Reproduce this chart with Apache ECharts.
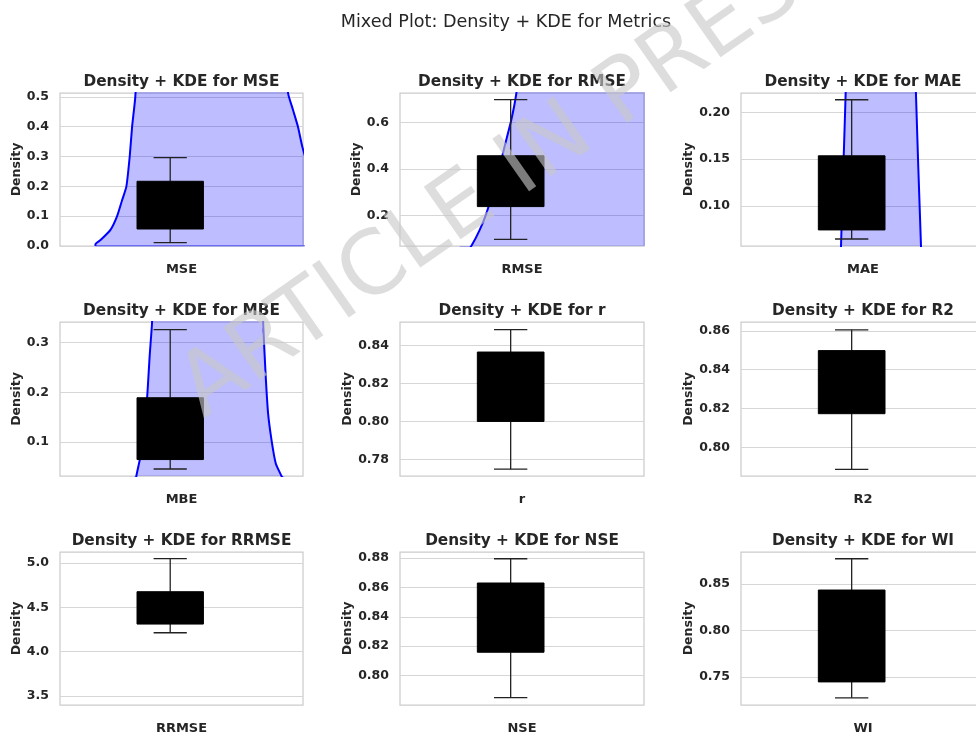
<!DOCTYPE html>
<html><head><meta charset="utf-8">
<script src="https://cdn.jsdelivr.net/npm/echarts@6/dist/echarts.min.js"></script>
<style>html,body{margin:0;padding:0;background:#fff}#c{width:976px;height:736px}</style>
</head><body><div id="c"></div>
<script>
// ---- data ----
const metrics = ['MSE', 'RMSE', 'MAE', 'MBE', 'r', 'R2', 'RRMSE', 'NSE', 'WI'];
// box stats per metric: [lower whisker, Q1, median, Q3, upper whisker]
const boxMSE   = [0.011, 0.057, 0.14, 0.217, 0.296];
const boxRMSE  = [0.098, 0.239, 0.35, 0.457, 0.698];
const boxMAE   = [0.0646, 0.0743, 0.11, 0.1536, 0.2136];
const boxMBE   = [0.046, 0.065, 0.12, 0.189, 0.3255];
const boxR     = [0.7749, 0.800, 0.82, 0.8365, 0.8483];
const boxR2    = [0.7888, 0.8174, 0.835, 0.8498, 0.8605];
const boxRRMSE = [4.213, 4.311, 4.5, 4.676, 5.049];
const boxNSE   = [0.785, 0.8159, 0.84, 0.863, 0.8795];
const boxWI    = [0.728, 0.745, 0.80, 0.8433, 0.8768];
const boxes = [boxMSE, boxRMSE, boxMAE, boxMBE, boxR, boxR2, boxRRMSE, boxNSE, boxWI];
const boxPosition = 1;

// KDE curves [x, density] (parts above the axes are clipped)
const kdeMSE = [[0.437,0.0],[0.437,0.006],[0.475,0.02],[0.55,0.054],[0.60,0.10],[0.638,0.154],[0.67,0.20],[0.695,0.30],[0.713,0.40],[0.737,0.50],[0.76,0.70],[0.80,1.0],[1.0,1.6],[1.3,1.8],[1.6,1.4],[1.85,0.70],[1.888,0.512],[1.925,0.456],[1.962,0.40],[1.995,0.333],[2.05,0.25]];
const kdeMSEBase = [[0.437,0.0],[2.05,0.0]];
const kdeRMSE = [[0.617,0.0],[0.655,0.03],[0.705,0.07],[0.767,0.138],[0.818,0.21],[0.893,0.352],[0.955,0.498],[1.005,0.611],[1.043,0.726],[1.105,1.0],[1.5,2.0],[2.1,2.0]];
const kdeMAE = [[0.915,0.03],[0.920,0.057],[0.9375,0.14],[0.955,0.221],[0.97,0.30],[1.2,0.6],[1.465,0.30],[1.482,0.221],[1.50,0.14],[1.52,0.057],[1.525,0.03]];
const kdeMBE = [[0.73,0.0],[0.745,0.032],[0.775,0.070],[0.807,0.124],[0.830,0.205],[0.845,0.272],[0.863,0.339],[0.88,0.45],[1.3,0.9],[1.69,0.45],[1.700,0.339],[1.718,0.238],[1.737,0.158],[1.763,0.104],[1.795,0.057],[1.838,0.032],[1.86,0.02]];
const kdes = [kdeMSE, kdeRMSE, kdeMAE, kdeMBE, null, null, null, null, null];

// axis ranges and tick labels
const yMin = [0.0, 0.07, 0.0571, 0.032, 0.7713, 0.7854, 3.398, 0.780, 0.7203];
const yMax = [0.513, 0.726, 0.2208, 0.341, 0.8523, 0.8645, 5.124, 0.8841, 0.884];
const yTicks = [
  [0.0,0.1,0.2,0.3,0.4,0.5],
  [0.2,0.4,0.6],
  [0.10,0.15,0.20],
  [0.1,0.2,0.3],
  [0.78,0.80,0.82,0.84],
  [0.80,0.82,0.84,0.86],
  [3.5,4.0,4.5,5.0],
  [0.80,0.82,0.84,0.86,0.88],
  [0.75,0.80,0.85]
];
const yDecimals = [1,1,2,1,2,2,1,2,2];
const xMin = 0.17, xMax = 2.0;

// ---- layout ----
const FONT = '"DejaVu Sans", sans-serif';
const TXT = '#262626';
const colLeft = [60, 400, 741];
const colWidth = [243, 244, 244];
const rowTop = [93, 322, 552];
const rowHeight = [153, 154, 153];
const nameGaps = [36, 36, 44];

const grids = [], xAxes = [], yAxes = [], series = [], titles = [];
titles.push({
  text: 'Mixed Plot: Density + KDE for Metrics',
  left: 506, top: 13, textAlign: 'center', padding: 0,
  textStyle: { fontFamily: FONT, fontSize: 17.6, fontWeight: 'normal', color: TXT }
});

function renderBox(params, api) {
  const x = api.value(0), lo = api.value(1), q1 = api.value(2), md = api.value(3), q3 = api.value(4), hi = api.value(5);
  const hw = 0.25, cw = 0.125;
  const tl = api.coord([x - hw, q3]), br = api.coord([x + hw, q1]);
  const cLo = api.coord([x, lo]), cHi = api.coord([x, hi]);
  const capL = api.coord([x - cw, lo])[0], capR = api.coord([x + cw, lo])[0];
  const mL = api.coord([x - hw, md]), mR = api.coord([x + hw, md]);
  const ls = { stroke: '#222', lineWidth: 1.3, fill: null };
  return {
    type: 'group',
    children: [
      { type: 'line', shape: { x1: cLo[0], y1: cLo[1], x2: cLo[0], y2: br[1] }, style: ls },
      { type: 'line', shape: { x1: cHi[0], y1: cHi[1], x2: cHi[0], y2: tl[1] }, style: ls },
      { type: 'line', shape: { x1: capL, y1: cLo[1], x2: capR, y2: cLo[1] }, style: ls },
      { type: 'line', shape: { x1: capL, y1: cHi[1], x2: capR, y2: cHi[1] }, style: ls },
      { type: 'rect', shape: { x: tl[0], y: tl[1], width: br[0] - tl[0], height: br[1] - tl[1] }, style: { fill: '#000', stroke: '#000', lineWidth: 1 } },
      { type: 'line', shape: { x1: mL[0], y1: mL[1], x2: mR[0], y2: mR[1] }, style: { stroke: '#000', lineWidth: 1 } }
    ]
  };
}

metrics.forEach((m, i) => {
  const r = Math.floor(i / 3), c = i % 3;
  grids.push({
    left: colLeft[c], top: rowTop[r], width: colWidth[c], height: rowHeight[r],
    show: true, borderColor: '#cccccc', borderWidth: 1.25, backgroundColor: '#fff',
    containLabel: false, outerBoundsMode: 'none'
  });
  xAxes.push({
    type: 'value', gridIndex: i, min: xMin, max: xMax,
    axisLine: { show: false }, axisTick: { show: false }, axisLabel: { show: false }, splitLine: { show: false },
    name: m, nameLocation: 'middle', nameGap: 17,
    nameTextStyle: { fontFamily: FONT, fontSize: 13, fontWeight: 'bold', color: TXT }
  });
  const dec = yDecimals[i];
  yAxes.push({
    type: 'value', gridIndex: i, min: yMin[i], max: yMax[i],
    axisLine: { show: false },
    axisTick: { show: false, customValues: yTicks[i] },
    axisLabel: { show: true, customValues: yTicks[i], margin: 11, formatter: v => Number(v).toFixed(dec),
      fontFamily: FONT, fontSize: 12.5, fontWeight: 'bold', color: TXT },
    splitLine: { show: true, lineStyle: { color: '#d6d6d6', width: 1 } },
    name: 'Density', nameLocation: 'middle', nameGap: nameGaps[c], nameRotate: 90,
    nameTextStyle: { fontFamily: FONT, fontSize: 12.5, fontWeight: 'bold', color: TXT }
  });
  titles.push({
    text: 'Density + KDE for ' + m,
    left: colLeft[c] + colWidth[c] / 2, top: rowTop[r] - 18, textAlign: 'center', padding: 0,
    textStyle: { fontFamily: FONT, fontSize: 15.3, fontWeight: 'bold', color: TXT }
  });
  if (kdes[i]) {
    series.push({
      type: 'line', xAxisIndex: i, yAxisIndex: i, data: kdes[i], showSymbol: false, smooth: 0.2, clip: true,
      lineStyle: { color: '#0000ff', width: 2 },
      areaStyle: { color: 'rgba(0,0,255,0.26)', opacity: 1, origin: 'start' },
      z: 2, silent: true
    });
  }
  if (m === 'MSE') {
    series.push({
      type: 'line', xAxisIndex: i, yAxisIndex: i, data: kdeMSEBase, showSymbol: false, clip: true,
      lineStyle: { color: '#3030ff', width: 1.2 }, z: 2, silent: true
    });
  }
  series.push({
    type: 'custom', xAxisIndex: i, yAxisIndex: i, renderItem: renderBox,
    data: [[boxPosition].concat(boxes[i])], z: 5, silent: true
  });
});

const chart = echarts.init(document.getElementById('c'), null, { renderer: 'canvas' });
chart.setOption({
  backgroundColor: '#ffffff',
  animation: false,
  title: titles,
  grid: grids, xAxis: xAxes, yAxis: yAxes, series: series,
  graphic: [{
    type: 'text', x: 514, y: 174, rotation: 35 * Math.PI / 180, z: 100, silent: true,
    style: { text: 'ARTICLE IN PRESS', font: '88px "DejaVu Sans"', fill: 'rgba(200,200,200,0.62)',
      align: 'center', verticalAlign: 'middle', textAlign: 'center', textVerticalAlign: 'middle' }
  }]
});
</script></body></html>
